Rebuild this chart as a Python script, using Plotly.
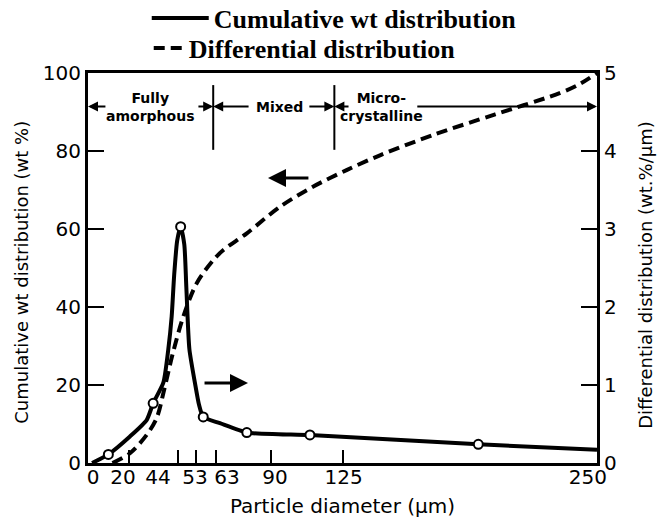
import plotly.graph_objects as go

# ---- data ----
# Differential distribution (solid line, right axis, wt.%/um)
DIFF_D = [2, 10, 20.6, 28.8, 32, 37, 39.4, 41.1, 42.3, 43.8, 45.5, 47.3, 48.3, 49.8, 52.5, 54.5, 56.6, 64.8, 78, 93.5, 109, 191.7, 250]
DIFF_V = [0, 0.11, 0.34, 0.55, 0.765, 1.03, 1.45, 1.88, 2.4, 2.85, 3.03, 2.8, 2.25, 1.46, 1.03, 0.75, 0.59, 0.51, 0.39, 0.37, 0.36, 0.24, 0.17]
# measured points (open circles)
PTS_D = [10, 32, 45.5, 56.6, 78, 109, 191.7]
PTS_V = [0.11, 0.765, 3.03, 0.59, 0.39, 0.36, 0.24]

# Cumulative distribution (dashed line, left axis, wt %)
CUM_D = [12, 20.6, 28.8, 33.7, 37.5, 41.6, 46.8, 53.4, 61.5, 66.5, 78, 94.3, 110.7, 127, 143.4, 170, 200, 232, 242, 250]
CUM_V = [0, 2.5, 7.2, 11.5, 19, 28, 37.5, 46.1, 52, 54.6, 58.9, 65.7, 70.9, 75.1, 78.9, 84.2, 89.4, 94.9, 97.3, 100]

X_TICKS = [0, 20, 44, 53, 63, 90, 125, 250]
X_TICK_TEXT = ["0", "20", "44", "53", "63", "90", "125", "250"]
LEFT_TICKS = [0, 20, 40, 60, 80, 100]
RIGHT_TICKS = [0, 1, 2, 3, 4, 5]

REGION_BOUNDS = [61.5, 121]
REGION_NAMES = ["Fully<br>amorphous", "Mixed", "Micro-<br>crystalline"]

# ---- styling / layout positions ----
LABEL_POS = [2.5, 17.2, 34.4, 52.6, 68.3, 91.8, 125.5, 245.5]
TICK_FONT = dict(family="DejaVu Sans", size=20, color="black")
TITLE_FONT = dict(family="DejaVu Sans", size=18, color="black")

fig = go.Figure()

fig.add_trace(go.Scatter(
    x=CUM_D, y=CUM_V, mode="lines", name="Differential distribution",
    line=dict(color="black", width=4, dash="11px,6px", shape="spline", smoothing=0.9),
    xaxis="x", yaxis="y", legend="legend2"))

fig.add_trace(go.Scatter(
    x=DIFF_D, y=DIFF_V, mode="lines", name="Cumulative wt distribution",
    line=dict(color="black", width=4, shape="spline", smoothing=0.6),
    xaxis="x", yaxis="y2", legend="legend"))

fig.add_trace(go.Scatter(
    x=PTS_D, y=PTS_V, mode="markers", showlegend=False,
    marker=dict(symbol="circle", size=9, color="white", line=dict(color="black", width=2)),
    xaxis="x2", yaxis="y2"))

# region dividers
shapes = []
for b in REGION_BOUNDS:
    shapes.append(dict(type="line", xref="x", yref="y", x0=b, x1=b, y0=80.3, y1=96.9,
                       line=dict(color="black", width=2)))

ann = []
AY = 91.4
def arrow(head, tail, y=AY, width=2, size=1.0):
    ann.append(dict(x=head, y=y, ax=tail, ay=y, xref="x", yref="y", axref="x", ayref="y",
                    text="", showarrow=True, arrowhead=2, arrowsize=size, arrowwidth=width,
                    arrowcolor="black"))

arrow(0, 9.3)
arrow(REGION_BOUNDS[0], 53.5)
arrow(REGION_BOUNDS[0], 79.6)
arrow(REGION_BOUNDS[1], 108)
arrow(REGION_BOUNDS[1], 128.7)
arrow(250, 161)

REG_FONT = dict(family="DejaVu Sans", size=14, color="black", weight="bold")
for name, xc in zip(REGION_NAMES, [30.5, 94.3, 144]):
    ann.append(dict(x=xc, y=AY, xref="x", yref="y", text=name, showarrow=False,
                    font=REG_FONT, align="center", yanchor="middle"))

# pointer arrows to the axes
arrow(88.4, 109, y=73.1, width=3, size=1.2)
arrow(78.6, 56.5, y=20.5, width=3, size=1.2)

# y axis titles
ann.append(dict(x=-0.13, y=0.49, xref="paper", yref="paper", text="Cumulative wt distribution (wt %)",
                textangle=-90, showarrow=False, font=TITLE_FONT, xanchor="center", yanchor="middle"))
ann.append(dict(x=1.094, y=0.482, xref="paper", yref="paper", text="Differential distribution (wt.%/\u03bcm)",
                textangle=-90, showarrow=False, font=TITLE_FONT, xanchor="center", yanchor="middle"))

LEGEND_FONT = dict(family="Liberation Serif", size=26, color="black", weight="bold")

fig.update_layout(
    width=661, height=529,
    margin=dict(l=88, r=64, t=73, b=66, autoexpand=False),
    paper_bgcolor="white", plot_bgcolor="white",
    shapes=shapes, annotations=ann,
    xaxis=dict(range=[0, 250], domain=[0, 1], anchor="y", showline=True, linewidth=3,
               linecolor="black", mirror=True,
               ticks="inside", tickvals=X_TICKS, ticklen=13, tickwidth=2, tickcolor="black",
               showticklabels=False, showgrid=False, zeroline=False),
    xaxis2=dict(range=[0, 250], domain=[0, 1], overlaying="x", anchor="y2", side="bottom",
                tickvals=LABEL_POS, ticktext=X_TICK_TEXT, ticks="", showline=False,
                showgrid=False, zeroline=False, tickfont=TICK_FONT, tickangle=0,
                title=dict(text="Particle diameter (\u03bcm)",
                           font=dict(family="DejaVu Sans", size=20, color="black"), standoff=10)),
    yaxis=dict(range=[0, 100], domain=[0, 1], anchor="x", side="left", showline=True, linewidth=3,
               linecolor="black",
               ticks="inside", tickvals=LEFT_TICKS, ticklen=16, tickwidth=2, tickcolor="black",
               tickfont=TICK_FONT, showgrid=False, zeroline=False),
    yaxis2=dict(range=[0, 5], domain=[0, 1], overlaying="y", anchor="x", side="right",
                showline=True, linewidth=3,
                linecolor="black", ticks="inside", tickvals=RIGHT_TICKS, ticklen=16, tickwidth=2,
                tickcolor="black", tickfont=TICK_FONT, showgrid=False, zeroline=False),
    legend=dict(xref="container", yref="container", x=0.222, y=0.966, xanchor="left", yanchor="middle",
                itemwidth=57, font=LEGEND_FONT, bgcolor="rgba(0,0,0,0)"),
    legend2=dict(xref="container", yref="container", x=0.225, y=0.909, xanchor="left", yanchor="middle",
                 itemwidth=30, font=LEGEND_FONT, bgcolor="rgba(0,0,0,0)"),
)

fig.write_html("out.html")
